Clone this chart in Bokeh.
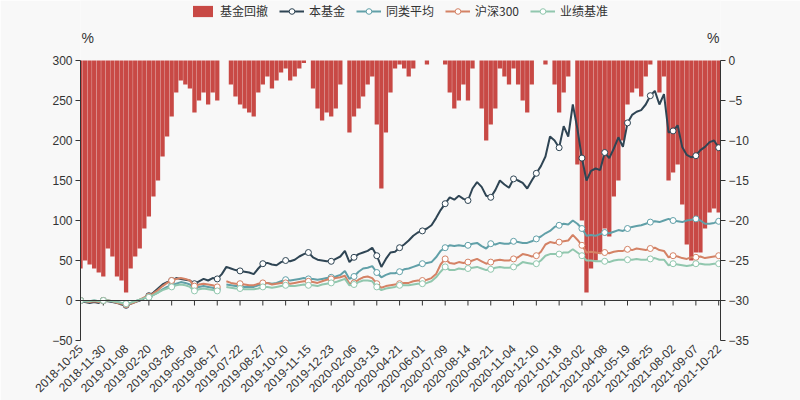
import math
from bokeh.plotting import figure
from bokeh.models import (Range1d, LinearAxis, FixedTicker, Legend, LegendItem,
                          Span, Label)
from bokeh.embed import file_html
from bokeh.resources import INLINE

NAN = float("nan")

# x tick labels (one every 5 weekly samples)
dates = ["2018-10-25", "2018-11-30", "2019-01-08", "2019-02-20", "2019-03-28",
         "2019-05-09", "2019-06-17", "2019-07-22", "2019-08-27", "2019-10-10",
         "2019-11-15", "2019-12-23", "2020-02-06", "2020-03-13", "2020-04-21",
         "2020-06-01", "2020-07-09", "2020-08-14", "2020-09-21", "2020-11-04",
         "2020-12-10", "2021-01-18", "2021-03-02", "2021-04-08", "2021-05-19",
         "2021-06-25", "2021-08-02", "2021-09-07", "2021-10-22"]

# 本基金 cumulative return (%)
fund = [0, -2, -3, -2, -3, 0, -1, -2, -3, -5,
        -6, -4, -2, 0, 3, 6, 10, 15, 20, 23,
        25, 28, 27, 26, 25, 21, 24, 27, 25, 28,
        27, 33, 42, 40, 38, 37, 36, 35, 33, 40,
        46, 47, 45, 44, 48, 50, 49, 51, 55, 58,
        60, 54, 51, 50, 49, 49, 52, 55, 62, 48,
        54, 58, 60, 62, 66, 56, 42, 52, 60, 61,
        66, 70, 75, 81, 85, 87, 90, 94, 103, 113,
        121, 129, 126, 131, 127, 125, 140, 148, 142, 131,
        129, 138, 150, 145, 141, 152, 150, 147, 140, 150,
        159, 168, 180, 205, 200, 191, 218, 205, 245, 215,
        178, 150, 162, 165, 163, 185, 178, 190, 204, 192,
        222, 232, 236, 238, 245, 256, 262, 245, 258, 210,
        212, 219, 192, 182, 179, 181, 188, 192, 198, 200,
        191]

# 同类平均 (%)
peer = [0, -1, -1, 0, -1, 0, 0, -1, -2, -3,
        -4, -3, -1, 1, 3, 4, 7, 10, 14, 17,
        19, 21, 23, 22, 20, 15, 17, 18, 17, 16,
        14, NAN, 20, 19, 18, 18, 17, 17, 17, 19,
        21, 22, 21, 22, 24, 26, 25, 26, 27, 28,
        27, 27, 26, 27, 28, 29, 30, 32, 37, 27,
        30, 36, 40, 41, 43, 35, 29, 32, 34, 34,
        36, 39, 40, 42, 44, 46, 47, 48, 54, 62,
        66, 69, 68, 69, 68, 69, 71, 72, 68, 65,
        71, 70, 72, 71, 71, 74, 73, 72, 72, 74,
        77, 80, 84, 87, 92, 94, 96, 95, 100, 96,
        90, 81, 82, 81, 83, 85, 84, 86, 88, 87,
        90, 92, 93, 94, 96, 98, 99, 98, 100, 102,
        100, 99, 98, 100, 101, 102, 100, 96, 96, 97,
        99]

# 沪深300 (%)
hs300 = [0, -1, -2, -1, -2, 0, 0, -1, -3, -4,
         -5, -4, -2, 1, 4, 5, 9, 13, 18, 22,
         25, 27, 28, 27, 25, 18, 20, 21, 20, 19,
         17, NAN, 24, 22, 21, 21, 20, 19, 19, 21,
         22, 22, 20, 21, 22, 22, 21, 22, 23, 24,
         24, 23, 22, 24, 26, 27, 28, 29, 31, 21,
         22, 26, 29, 30, 28, 21, 16, 18, 19, 20,
         21, 22, 22, 24, 25, 25, 26, 28, 33, 45,
         52, 47, 46, 48, 47, 48, 50, 52, 49, 46,
         48, 50, 51, 50, 50, 52, 54, 58, 57, 55,
         56, 61, 70, 73, 72, 73, 74, 75, 82, 76,
         69, 60, 61, 60, 59, 60, 59, 61, 62, 62,
         64, 63, 65, 64, 63, 65, 66, 63, 62, 54,
         56, 55, 53, 52, 54, 54, 55, 53, 54, 55,
         56]

# 业绩基准 (%)
bench = [0, -1, -1, 0, -1, 0, 0, -1, -2, -3,
         -4, -3, -1, 1, 3, 4, 7, 10, 13, 15,
         17, 19, 20, 19, 17, 12, 14, 15, 14, 13,
         12, NAN, 17, 16, 15, 15, 14, 14, 14, 15,
         17, 17, 16, 17, 18, 19, 18, 18, 19, 20,
         19, 19, 18, 20, 21, 22, 23, 25, 27, 19,
         20, 23, 25, 25, 24, 17, 13, 15, 16, 17,
         19, 19, 19, 20, 21, 21, 22, 24, 29, 36,
         42, 38, 38, 40, 39, 40, 41, 42, 40, 38,
         39, 41, 42, 41, 41, 42, 44, 48, 47, 46,
         46, 50, 56, 58, 58, 58, 60, 60, 64, 60,
         56, 50, 50, 49, 49, 49, 48, 50, 51, 51,
         51, 51, 52, 51, 51, 52, 53, 51, 51, 44,
         46, 45, 44, 43, 44, 46, 46, 45, 45, 46,
         46]

# 基金回撤 drawdown (%), right axis
drawdown = [-26, -25, -25.5, -26, -26.5, -27, -23.5, -24.5, -27, -27.5,
            -29, -26, -24.5, -23.5, -21, -19.5, -17, -15, -12, -9.5,
            -7, -4, -2.5, -3, -3.5, -6.5, -5, -4, -5.5, -4,
            -5, 0, 0, -3, -4.5, -5.5, -6, -6.5, -7, -4,
            -3, -2, -3.5, -2.5, -1.5, -1, -2.5, -2, -1, -0.3,
            0, -3.5, -6, -7.5, -6.5, -7, -6, -3, 0, -9,
            -7, -6, -4.5, -3, -2, -8, -16, -9, -4, -1,
            -0.5, -1, -2, -1, 0, 0, -0.5, 0, 0, 0,
            -0.5, -4, -6, -5, -3, -5, -1, 0, -6, -10,
            -8, -6, -1, -2, -3, -1, -3, -5, -6.5, -3,
            0, 0, -0.5, 0, -3, -6.5, -4, -2, 0, -13,
            -20, -29, -26, -25, -24, -21, -22, -17, -15, -10,
            -5.5, -4, -3.5, -4.5, -2, -0.5, 0, -4, -2, -15,
            -14, -13, -18, -23, -25, -24, -24, -21, -19, -18.5,
            -19]

left_ticks = [-50, 0, 50, 100, 150, 200, 250, 300]
right_ticks = [-35, -30, -25, -20, -15, -10, -5, 0]

TICK_STEP = 5
n = len(fund)
xs = list(range(n))
tick_pos = list(range(0, n, TICK_STEP))
X_END = 140.4

# the frame reaches the top of the page so that legend and axis names fit in it;
# 0.8 px per left-axis unit, 8 px per right-axis unit
LEFT_TOP = 375
RIGHT_TOP = 7.5

AXIS_FONT = "Liberation Sans"
CJK_FONT = "Noto Sans CJK SC"
TXT = "#333333"
BG = "#f8f8f8"

p = figure(width=800, height=400, output_backend="svg", toolbar_location=None,
           x_range=Range1d(0, X_END), y_range=Range1d(-50, LEFT_TOP),
           min_border_left=80, min_border_right=80, min_border_top=0,
           min_border_bottom=60, background_fill_color=BG,
           border_fill_color=BG, outline_line_color=None)
p.extra_y_ranges = {"dd": Range1d(-35, RIGHT_TOP)}
p.xgrid.visible = False
p.ygrid.visible = False


def minus(v):
    return str(v).replace("-", "\u2212")


def style_axis(ax):
    ax.major_label_text_font = AXIS_FONT
    ax.major_label_text_font_size = "12px"
    ax.major_label_text_color = TXT
    ax.minor_tick_line_color = None


# x axis (labels only; the line is drawn at zero)
xa = p.xaxis[0]
xa.ticker = FixedTicker(ticks=tick_pos)
xa.major_label_overrides = {t: d for t, d in zip(tick_pos, dates)}
xa.major_label_orientation = math.pi / 4
xa.axis_line_color = None
xa.major_tick_line_color = None
xa.major_tick_out = 0
xa.major_label_standoff = 6
style_axis(xa)

ya = p.yaxis[0]
ya.ticker = FixedTicker(ticks=left_ticks)
ya.major_label_overrides = {t: minus(t) for t in left_ticks}
ya.bounds = (left_ticks[0], left_ticks[-1])
ya.axis_line_color = TXT
ya.major_tick_line_color = TXT
ya.major_tick_out = 5
ya.major_tick_in = 0
ya.major_label_standoff = 3
style_axis(ya)

ra = LinearAxis(y_range_name="dd", ticker=FixedTicker(ticks=right_ticks))
ra.major_label_overrides = {t: minus(t) for t in right_ticks}
ra.bounds = (right_ticks[0], right_ticks[-1])
ra.axis_line_color = TXT
ra.major_tick_line_color = TXT
ra.major_tick_out = 5
ra.major_tick_in = 0
ra.major_label_standoff = 3
style_axis(ra)
p.add_layout(ra, "right")

# drawdown bars
bars = p.vbar(x=xs, top=0, bottom=drawdown, width=0.94, y_range_name="dd",
              fill_color="#c23531", fill_alpha=0.9, line_color=None)

# zero line with ticks
p.add_layout(Span(location=0, dimension="width", line_color=TXT, line_width=1))
p.segment(x0=tick_pos, y0=[0] * len(tick_pos), x1=tick_pos,
          y1=[-6.25] * len(tick_pos), line_color=TXT, line_width=1)

series = [("本基金", fund, "#2f4554"), ("同类平均", peer, "#61a0a8"),
          ("沪深300", hs300, "#d48265"), ("业绩基准", bench, "#91c7ae")]
items = [LegendItem(label="基金回撤", renderers=[bars])]
for name, vals, col in series:
    lr = p.line(xs, vals, line_color=col, line_width=2)
    mr = p.scatter(tick_pos, vals[::TICK_STEP], size=6, fill_color="white",
                   line_color=col, line_width=1)
    items.append(LegendItem(label=name, renderers=[lr, mr]))

legend = Legend(items=items, orientation="horizontal", location=(110, 321),
                glyph_width=25, glyph_height=14, label_standoff=5, spacing=11,
                padding=0, margin=0, border_line_color=None,
                background_fill_alpha=0, label_text_font=CJK_FONT,
                label_text_font_size="12px", label_text_color=TXT)
p.add_layout(legend)

# axis names
p.add_layout(Label(x=0, y=328.75, text="%", text_align="left", x_offset=1,
                   text_baseline="middle", text_font=AXIS_FONT,
                   text_font_size="14px", text_color=TXT))
p.add_layout(Label(x=X_END, y=328.75, text="%", text_align="right",
                   x_offset=-1, text_baseline="middle", text_font=AXIS_FONT,
                   text_font_size="14px", text_color=TXT))

open("out.html", "w").write(file_html(p, INLINE))
